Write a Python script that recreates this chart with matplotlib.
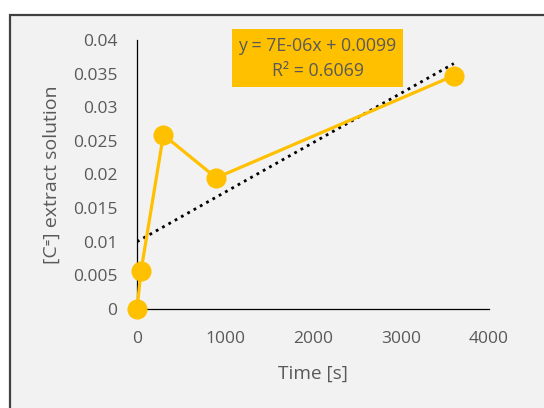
import numpy as np
import matplotlib
matplotlib.use("Agg")
import matplotlib.pyplot as plt
from matplotlib.patches import Rectangle
from matplotlib.ticker import FuncFormatter

time_s = [0, 45, 300, 900, 3600]
conc = [0.0, 0.0056, 0.0259, 0.0195, 0.0347]
x_ticks = [0, 1000, 2000, 3000, 4000]
y_ticks = [0, 0.005, 0.01, 0.015, 0.02, 0.025, 0.03, 0.035, 0.04]
eq_lines = ["y = 7E-06x + 0.0099", "R² = 0.6069"]

plt.rcParams['font.family'] = ['Open Sans', 'DejaVu Sans']
grey = '#595959'
gold = '#FFC000'
W, H = 544, 408

fig = plt.figure(figsize=(5.44, 4.08), dpi=100)
fig.patch.set_facecolor('white')
# chart area background with border
fig.patches.append(Rectangle((10/W, -0.1), 1.2, (H-15)/H + 0.1, transform=fig.transFigure,
                             facecolor='#F2F2F2', edgecolor='#404040', linewidth=1.6, zorder=-5))

ax = fig.add_axes([137/W, 1-309/H, (489-137)/W, (309-40)/H])
ax.set_zorder(2)
ax.set_facecolor('none')
ax.set_xlim(0, 4000)
ax.set_ylim(0, 0.04)
for s in ['top', 'right']:
    ax.spines[s].set_visible(False)
for s in ['left', 'bottom']:
    ax.spines[s].set_color('#000000')
    ax.spines[s].set_linewidth(0.9)
ax.set_xticks(x_ticks)
ax.set_yticks(y_ticks)
ax.yaxis.set_major_formatter(FuncFormatter(lambda v, p: '%g' % v))
ax.tick_params(length=0, colors=grey, labelsize=12.5)
ax.tick_params(axis='y', pad=14)
ax.tick_params(axis='x', pad=16)

# trendline
slope, intercept = np.polyfit(time_s, conc, 1)
xt = np.array([0, time_s[-1]])
ax.plot(xt, slope*xt + intercept, color='black', linestyle=(0, (1, 1.6)), linewidth=2.0, zorder=2)

ax.plot(time_s, conc, color=gold, linewidth=2.3, marker='o', markersize=13.5,
        clip_on=False, zorder=3)

ax.set_xlabel('Time [s]', color=grey, fontsize=13.7, labelpad=13)
ax.set_ylabel('[C⁼] extract solution', color=grey, fontsize=14, labelpad=9)

# trendline equation box
fig.patches.append(Rectangle((232/W, 1-87/H), (403-232)/W, (87-29)/H, transform=fig.transFigure,
                             facecolor=gold, edgecolor='none', zorder=3))
fig.text(317.5/W, 1-46/H, eq_lines[0], ha='center', va='center', color=grey, fontsize=12.8, zorder=4)
fig.text(317.5/W, 1-71/H, eq_lines[1], ha='center', va='center', color=grey, fontsize=12.8, zorder=4)

fig.savefig('out.png', dpi=100)
